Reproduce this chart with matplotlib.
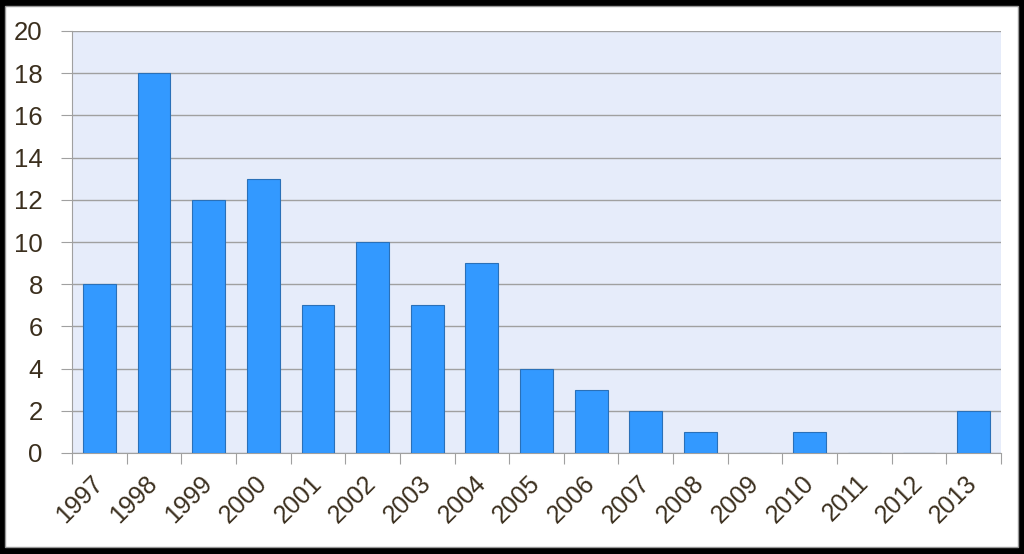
import numpy as np
import matplotlib
matplotlib.use("Agg")
import matplotlib.pyplot as plt
from matplotlib.patches import Rectangle

# data
years = ['1997', '1998', '1999', '2000', '2001', '2002', '2003', '2004', '2005',
         '2006', '2007', '2008', '2009', '2010', '2011', '2012', '2013']
counts = [8, 18, 12, 13, 7, 10, 7, 9, 4, 3, 2, 1, 0, 1, 0, 0, 2]
y_ticks = [0, 2, 4, 6, 8, 10, 12, 14, 16, 18, 20]

text_col = '#3b2f1e'
plt.rcParams['font.family'] = ['Liberation Sans', 'DejaVu Sans']

W, H = 1024, 554
fig = plt.figure(figsize=(W / 100, H / 100), dpi=100)
fig.patch.set_facecolor('black')

# white card with thin grey edge inside the black frame
fig.patches.append(Rectangle((5 / W, (H - 547) / H), (1018 - 5) / W, (547 - 6) / H,
                             transform=fig.transFigure, facecolor='white',
                             edgecolor='#9a9a9a', linewidth=1.0, zorder=-1))

ax = fig.add_axes([72 / W, (H - 453) / H, (1001 - 72) / W, (453 - 31) / H])
ax.set_zorder(1)
ax.set_facecolor('#e6ecfa')

x = np.arange(len(years))
ax.bar(x, counts, width=0.6, color='#3399ff', edgecolor='#2a70b8', linewidth=0.8, zorder=3)

ax.set_xlim(-0.5, len(years) - 0.5)
ax.set_ylim(0, 20)
ax.set_yticks(y_ticks)
ax.yaxis.grid(True, color='#a0a0a0', linewidth=1.0, zorder=1)
ax.set_axisbelow(True)

# x ticks sit between the categories, labels at the centres
ax.set_xticks(np.arange(len(years) + 1) - 0.5)
ax.set_xticklabels([])
ax.set_xticks(x, minor=True)
ax.set_xticklabels(years, minor=True, rotation=45, ha='right', va='center',
                   rotation_mode='anchor', fontsize=18, color=text_col)
ax.tick_params(axis='x', which='minor', length=0, pad=19)
ax.tick_params(axis='x', which='major', length=8, color='#a0a0a0', direction='out')
ax.tick_params(axis='y', length=8, color='#a0a0a0', labelsize=18.5, labelcolor=text_col, pad=13)

for side in ['top', 'right']:
    ax.spines[side].set_visible(False)
for side in ['left', 'bottom']:
    ax.spines[side].set_color('#a0a0a0')

fig.savefig('out.png', dpi=100, facecolor=fig.get_facecolor())
